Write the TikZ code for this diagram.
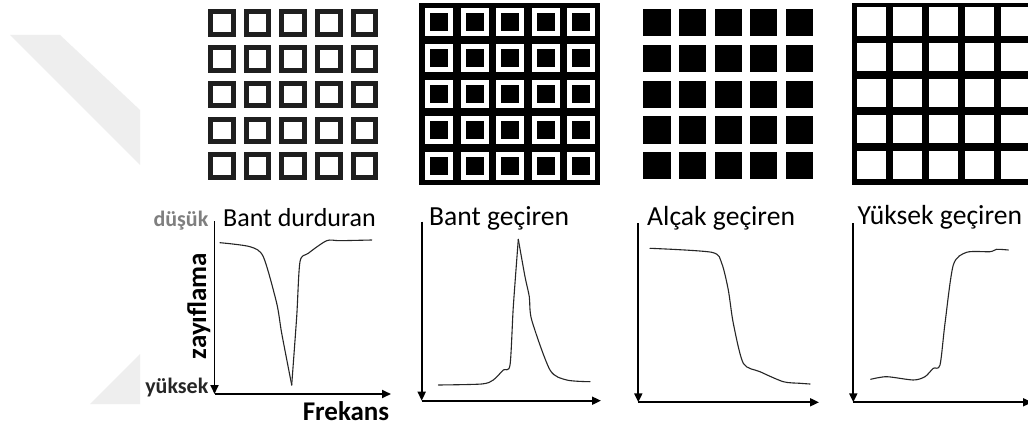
\documentclass[tikz,border=0pt]{standalone}
\usepackage{fontspec}
\setmainfont{Carlito}
\usetikzlibrary{arrows.meta}

\definecolor{ink}{HTML}{1F1F1F}
\definecolor{wm}{HTML}{EEEEEE}
\definecolor{lowlbl}{HTML}{7F7F7F}
\definecolor{curvecol}{HTML}{262626}

\tikzset{
  axis/.style={line width=1.8pt, -{Triangle[length=9pt,width=8pt]}},
  resp/.style={line width=1.1pt, draw=curvecol, line join=round, line cap=round},
  ftitle/.style={inner sep=0pt, anchor=base west, font=\fontsize{27.6}{32}\selectfont},
  levellbl/.style={inner sep=0pt, anchor=base east, font=\bfseries\fontsize{22}{26}\selectfont},
  axislbl/.style={inner sep=0pt, anchor=base, font=\bfseries\fontsize{27}{32}\selectfont},
}

\begin{document}
\begin{tikzpicture}[x=1pt,y=-1pt]
\useasboundingbox (0,0) rectangle (1028,430);
\clip (0,0) rectangle (1028,430);
\fill[white] (0,0) rectangle (1028,430);

% faint background band on the left
\fill[wm] (10,35) -- (60,35) -- (140,110) -- (140,165) -- cycle;
\fill[wm] (90,404) -- (140,354) -- (140,404) -- cycle;

% grid 1: outlined squares
\foreach \i in {0,...,4}
  \foreach \j in {0,...,4}
    \draw[ink, line width=5pt]
      ({208+35.7*\i+2.5},{9.3+35.75*\j+2.5}) rectangle ++(22.5,22.5);

% grid 2: black plate with white rings
\fill[black] (419,3.3) rectangle (600,185);
\foreach \i in {0,...,4}
  \foreach \j in {0,...,4}
    \draw[white, line width=5pt]
      ({425+35.6*\i+2.5},{8.3+35.85*\j+2.5}) rectangle ++(23,23);

% grid 3: solid black squares
\foreach \i in {0,...,4}
  \foreach \j in {0,...,4}
    \fill[black] ({643.3+35.6*\i},{9+35.8*\j}) rectangle ++(27.3,27.3);

% grid 4: black lattice with white windows
\fill[black] (851.7,2.7) rectangle (1040,185);
\foreach \i in {0,...,4}
  \foreach \j in {0,...,4}
    \fill[white] ({857.3+35.9*\i},{7.3+35.9*\j}) rectangle ++(28.7,28.3);

% ---- chart 1: band stop ----
\coordinate (t1) at (214.5,221.5);
\coordinate (o1) at (214.5,394);
\coordinate (x1) at (391,394);
\draw[axis] (t1) -- (o1);
\draw[axis] (o1) -- (x1);
\node[ftitle, font=\fontsize{26}{30}\selectfont] (h1) at (223,227) {Bant durduran};
\node[levellbl, text=lowlbl] (lo) at (208.5,226.5) {düşük};
\node[levellbl, text=curvecol] (hi) at (208.5,393.5) {yüksek};
\node[axislbl, rotate=90] (att) at (206,306) {zayıflama};
\node[axislbl] (freq) at (346,420) {Frekans};
\draw[resp] plot[smooth, tension=0.45] coordinates {
  (220,242.7) (250,246.7) (263.3,256.7) (276.7,303.3) (281.7,333.3) (291.7,385)};
\draw[resp] plot[smooth, tension=0.45] coordinates {
  (291.7,385) (296.7,316.7) (300,261.7) (308.3,253.3) (326.7,240.7) (340,240.7) (371.7,240)};

% ---- chart 2: band pass ----
\coordinate (t2) at (421.7,221.7);
\coordinate (o2) at (421.7,400.7);
\coordinate (x2) at (601,400.7);
\draw[axis] (t2) -- (o2);
\draw[axis] (o2) -- (x2);
\node[ftitle] (h2) at (429,226) {Bant geçiren};
\draw[resp] plot[smooth, tension=0.45] coordinates {
  (438.3,385) (481.7,384) (493.3,380) (503.3,370) (510,365) (513.3,306.7) (518.3,239.3)};
\draw[resp] plot[smooth, tension=0.45] coordinates {
  (518.3,239.3) (525,276.7) (529.3,296.7) (531.7,320) (550,370) (566.7,380) (590,381.7)};

% ---- chart 3: low pass ----
\coordinate (t3) at (638.3,223.3);
\coordinate (o3) at (638.3,402.3);
\coordinate (x3) at (819,402.3);
\draw[axis] (t3) -- (o3);
\draw[axis] (o3) -- (x3);
\node[ftitle] (h3) at (647,226) {Alçak geçiren};
\draw[resp] plot[smooth, tension=0.45] coordinates {
  (650,248.3) (711.7,252.3) (721.7,263.3) (728.3,290) (733.3,323.3) (743.3,363.3)
  (760,371.7) (783.3,381.7) (800,383.3) (810,384)};

% ---- chart 4: high pass ----
\coordinate (t4) at (853.3,223.3);
\coordinate (o4) at (853.3,402.3);
\coordinate (x4) at (1032,402.3);
\draw[axis] (t4) -- (o4);
\draw[axis] (o4) -- (x4);
\node[ftitle] (h4) at (857.5,225) {Yüksek geçiren};
\draw[resp] plot[smooth, tension=0.45] coordinates {
  (870.7,379.3) (886.7,376.7) (913.3,380) (925,376.7) (933.3,368.3) (940,365)
  (945,323.3) (953.3,265) (966.7,252.3) (990,251.7) (996.7,249.3) (1008.3,250)};
\end{tikzpicture}
\end{document}
